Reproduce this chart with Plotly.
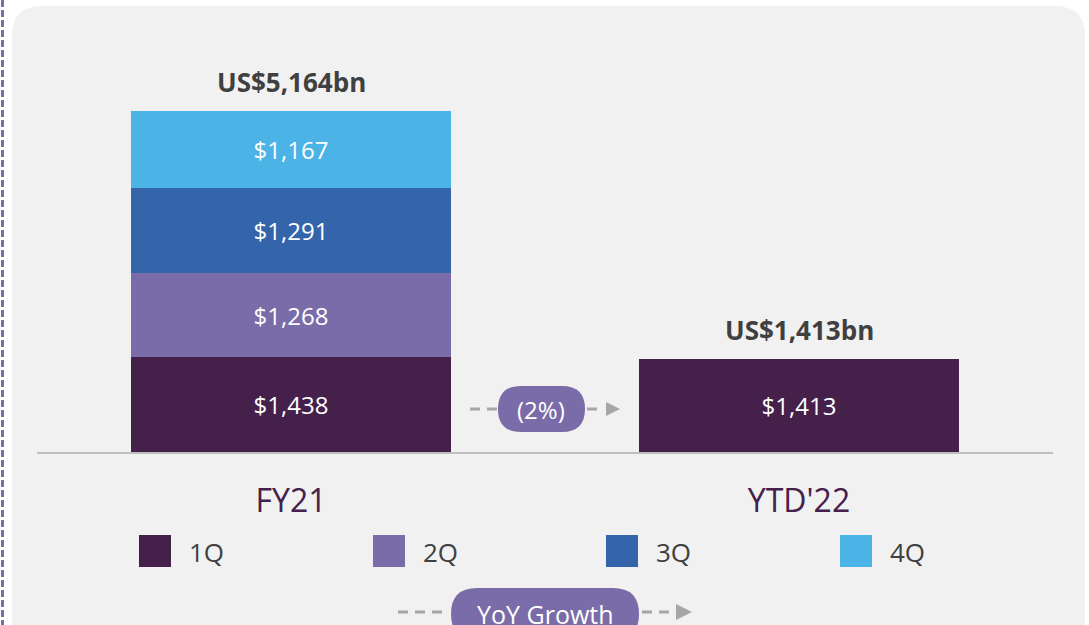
import plotly.graph_objects as go

categories = ["FY21", "YTD'22"]
quarters = ["1Q", "2Q", "3Q", "4Q"]
q1 = [1438, 1413]
q2 = [1268, None]
q3 = [1291, None]
q4 = [1167, None]
totals = [5164, 1413]
growth_label = "(2%)"
growth_legend = "YoY Growth"

colors = ["#44204b", "#7a6ca8", "#3465aa", "#4cb3e6"]
GROWTH_COLOR = "#7a6ca8"
ARROW_COLOR = "#a6a6a6"
FONT = "Open Sans, Noto Sans, sans-serif"

W, H = 1089, 625
L, R, T, B = 37, 36, 50, 173
PW, PH = W - L - R, H - T - B


def px(x):
    return (x - L) / PW


def py(y):
    return (H - B - y) / PH


def rounded_rect(x0, y0, x1, y1, r):
    # pixel coords -> paper path with rounded corners
    rx, ry = r / PW, r / PH
    a, b, c, d = px(x0), py(y1), px(x1), py(y0)  # left, bottom, right, top
    return (
        f"M {a + rx},{d} L {c - rx},{d} Q {c},{d} {c},{d - ry} "
        f"L {c},{b + ry} Q {c},{b} {c - rx},{b} L {a + rx},{b} "
        f"Q {a},{b} {a},{b + ry} L {a},{d - ry} Q {a},{d} {a + rx},{d} Z"
    )


def triangle(x, y, w=14, h=14):
    return f"M {px(x)},{py(y - h / 2)} L {px(x + w)},{py(y)} L {px(x)},{py(y + h / 2)} Z"


def paper_line(x0, x1, y, color, width, dash):
    return dict(type="line", xref="paper", yref="paper", x0=px(x0), x1=px(x1), y0=py(y), y1=py(y),
                line=dict(color=color, width=width, dash=dash))


def label(x, y, text, size, color, xanchor="center"):
    return dict(x=px(x), y=py(y), xref="paper", yref="paper", text=text, showarrow=False,
                xanchor=xanchor, yanchor="middle", font=dict(size=size, color=color, family=FONT))


fig = go.Figure()
for name, vals, col in zip(quarters, [q1, q2, q3, q4], colors):
    fig.add_trace(
        go.Bar(
            x=[0, 1],
            y=vals,
            name=name,
            width=0.63,
            marker=dict(color=col, line=dict(width=0)),
            text=[f"${v:,}" if v else "" for v in vals],
            textposition="inside",
            insidetextanchor="middle",
            textfont=dict(color="white", size=24, family=FONT),
            showlegend=False,
        )
    )

shapes = [
    dict(type="path", xref="paper", yref="paper", layer="below",
         path=rounded_rect(12, 6, 1085, 690, 30),
         fillcolor="#f1f1f1", line=dict(width=0)),
    dict(type="line", xref="paper", yref="paper", x0=px(2.5), x1=px(2.5), y0=py(0), y1=py(625),
         line=dict(color="#7a6ca8", width=3, dash="7px,3px")),
]

annotations = []
for i, t in enumerate(totals):
    annotations.append(dict(
        x=i, y=t, xref="x", yref="y", text=f"<b>US${t:,}bn</b>", showarrow=False,
        yanchor="bottom", yshift=9, font=dict(size=26, color="#404040", family=FONT),
    ))

# growth pill between bars
gx, gy = 541, 409
shapes += [
    paper_line(470, 500, gy, ARROW_COLOR, 3, "10px,7px"),
    paper_line(587, 604, gy, ARROW_COLOR, 3, "10px,7px"),
    dict(type="path", xref="paper", yref="paper", path=triangle(606, gy),
         fillcolor=ARROW_COLOR, line=dict(width=0)),
    dict(type="path", xref="paper", yref="paper", path=rounded_rect(498, 386, 585, 432, 23),
         fillcolor=GROWTH_COLOR, line=dict(width=0)),
]
annotations.append(label(gx, gy, growth_label, 24, "white"))

# legend
leg_x = [139, 373, 606, 840]
for lx, name, col in zip(leg_x, quarters, colors):
    shapes.append(dict(type="rect", xref="paper", yref="paper",
                       x0=px(lx), x1=px(lx + 32), y0=py(567), y1=py(535),
                       fillcolor=col, line=dict(width=0)))
    annotations.append(label(lx + 48, 552, name, 26, "#404040", xanchor="left"))

# YoY growth legend pill
by = 612
shapes += [
    paper_line(398, 449, by, ARROW_COLOR, 3, "10px,7px"),
    paper_line(642, 672, by, ARROW_COLOR, 3, "10px,7px"),
    dict(type="path", xref="paper", yref="paper", path=triangle(676, by, 16, 16),
         fillcolor=ARROW_COLOR, line=dict(width=0)),
    dict(type="path", xref="paper", yref="paper", path=rounded_rect(451, 588, 639, 640, 26),
         fillcolor=GROWTH_COLOR, line=dict(width=0)),
]
annotations.append(label(545, 614, growth_legend, 25, "white"))

fig.update_layout(
    width=W, height=H, autosize=False,
    barmode="stack",
    bargap=0,
    margin=dict(l=L, r=R, t=T, b=B, pad=0),
    paper_bgcolor="white",
    plot_bgcolor="rgba(0,0,0,0)",
    font=dict(family=FONT),
    shapes=shapes,
    annotations=annotations,
    xaxis=dict(
        range=[-0.5, 1.5], tickvals=[0, 1], ticktext=categories,
        showgrid=False, zeroline=False, showline=True, linecolor="#bfbfbf", linewidth=2,
        ticks="", ticklabelstandoff=20,
        tickfont=dict(size=32, color="#44204b", family=FONT),
        fixedrange=True,
    ),
    yaxis=dict(range=[0, PH / (341 / 5164)], visible=False, fixedrange=True),
)

fig.write_html(
    "out.html",
    config={"displayModeBar": False},
    post_script="document.body.style.margin='0';",
)
